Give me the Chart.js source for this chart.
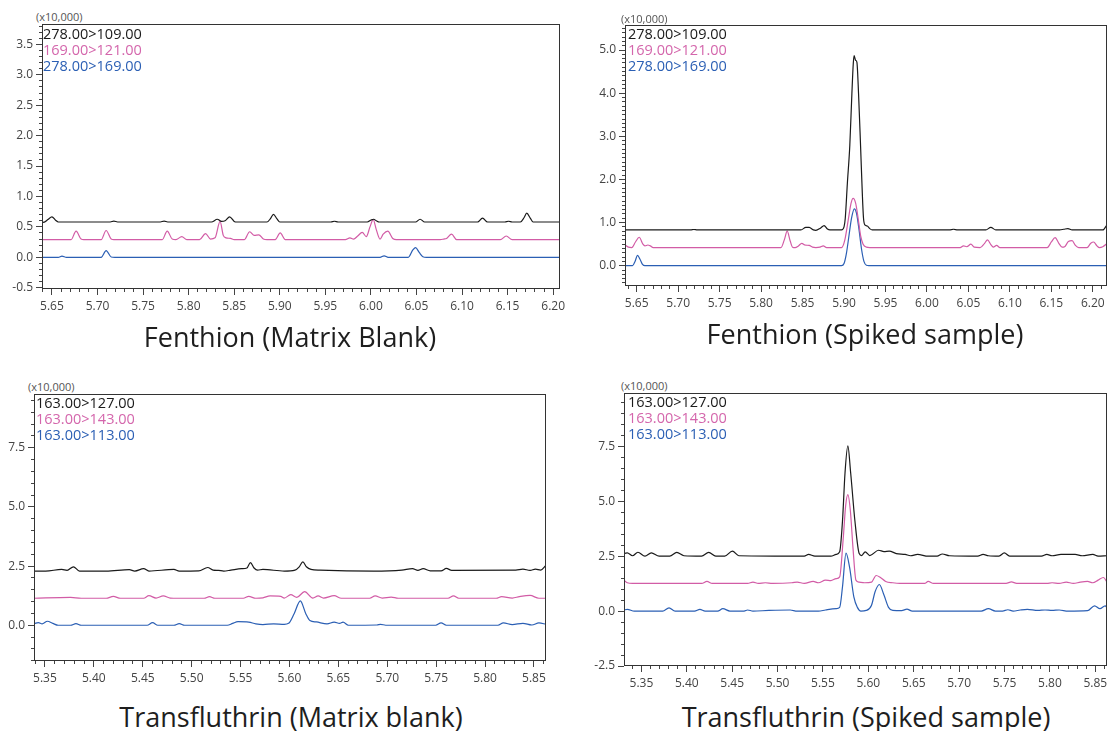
<!DOCTYPE html>
<html>
<head>
<meta charset="utf-8">
<script src="https://cdn.jsdelivr.net/npm/chart.js@4"></script>
<style>
body { margin:0; width:1110px; height:731px; background:#fff; position:relative; overflow:hidden; font-family:"Open Sans", sans-serif; }
canvas { position:absolute; }
.legend { position:absolute; font-size:14.5px; line-height:16px; white-space:nowrap; }
.unit { position:absolute; font-size:11px; line-height:11px; color:#555; white-space:nowrap; }
.title { position:absolute; font-size:27px; line-height:27px; color:#1e1e1e; white-space:nowrap; transform:translateX(-50%); }
.k { color:#1a1a1a } .p { color:#d466ac } .b { color:#2b5fb4 }
</style>
</head>
<body>

<canvas id="c1" width="567" height="295" style="left:8px;top:24px"></canvas>
<canvas id="c2" width="531" height="291" style="left:591px;top:25px"></canvas>
<canvas id="c3" width="561" height="297" style="left:0px;top:394px"></canvas>
<canvas id="c4" width="532" height="303" style="left:590px;top:393px"></canvas>

<div class="unit" style="left:36px;top:11px">(x10,000)</div>
<div class="unit" style="left:621px;top:13px">(x10,000)</div>
<div class="unit" style="left:28px;top:381px">(x10,000)</div>
<div class="unit" style="left:621px;top:380px">(x10,000)</div>

<div class="legend" style="left:43px;top:26px"><div class="k">278.00&gt;109.00</div><div class="p">169.00&gt;121.00</div><div class="b">278.00&gt;169.00</div></div>
<div class="legend" style="left:628px;top:26px"><div class="k">278.00&gt;109.00</div><div class="p">169.00&gt;121.00</div><div class="b">278.00&gt;169.00</div></div>
<div class="legend" style="left:36px;top:395px"><div class="k">163.00&gt;127.00</div><div class="p">163.00&gt;143.00</div><div class="b">163.00&gt;113.00</div></div>
<div class="legend" style="left:628px;top:394px"><div class="k">163.00&gt;127.00</div><div class="p">163.00&gt;143.00</div><div class="b">163.00&gt;113.00</div></div>

<div class="title" style="left:290px;top:323px">Fenthion (Matrix Blank)</div>
<div class="title" style="left:865px;top:320px">Fenthion (Spiked sample)</div>
<div class="title" style="left:291px;top:703px">Transfluthrin (Matrix blank)</div>
<div class="title" style="left:866px;top:703px">Transfluthrin (Spiked sample)</div>

<script>
// retention time (min), intensity (x10,000)
const fenXTicks = [5.65, 5.70, 5.75, 5.80, 5.85, 5.90, 5.95, 6.00, 6.05, 6.10, 6.15, 6.20]
const tfXTicks = [5.35, 5.40, 5.45, 5.50, 5.55, 5.60, 5.65, 5.70, 5.75, 5.80, 5.85]
const fenBlankYTicks = [-0.5, 0.0, 0.5, 1.0, 1.5, 2.0, 2.5, 3.0, 3.5]
const fenSpikeYTicks = [0.0, 1.0, 2.0, 3.0, 4.0, 5.0]
const tfBlankYTicks = [0.0, 2.5, 5.0, 7.5]
const tfSpikeYTicks = [-2.5, 0.0, 2.5, 5.0, 7.5]

// Fenthion, matrix blank
const fenBlank109 = [[5.638,0.59],[5.641,0.575],[5.6455,0.62],[5.650,0.665],[5.654,0.61],[5.657,0.58],
  [5.714,0.58],[5.718,0.595],[5.722,0.58],[5.769,0.58],[5.773,0.595],[5.777,0.58],
  [5.825,0.58],[5.8315,0.625],[5.836,0.59],[5.840,0.60],[5.845,0.665],[5.850,0.59],[5.853,0.58],
  [5.886,0.58],[5.890,0.64],[5.893,0.705],[5.897,0.63],[5.900,0.58],[5.956,0.58],[5.960,0.592],[5.964,0.58],
  [5.996,0.58],[6.0005,0.615],[6.003,0.625],[6.006,0.60],[6.009,0.58],[6.049,0.58],[6.054,0.625],[6.059,0.58],
  [6.117,0.58],[6.1225,0.645],[6.128,0.58],[6.147,0.58],[6.151,0.592],[6.155,0.58],
  [6.164,0.58],[6.168,0.65],[6.171,0.725],[6.175,0.64],[6.178,0.58],[6.208,0.58]]
const fenBlank121 = [[5.638,0.29],[5.671,0.29],[5.6765,0.43],[5.682,0.30],[5.685,0.29],
  [5.704,0.29],[5.7095,0.44],[5.715,0.30],[5.718,0.29],[5.771,0.29],[5.7765,0.43],[5.782,0.30],[5.786,0.29],[5.7925,0.34],[5.798,0.29],
  [5.812,0.29],[5.8185,0.39],[5.824,0.30],[5.829,0.32],[5.8345,0.59],[5.838,0.36],[5.841,0.32],[5.846,0.31],[5.850,0.29],
  [5.861,0.29],[5.867,0.42],[5.872,0.36],[5.877,0.37],[5.882,0.30],[5.886,0.29],[5.895,0.29],[5.9005,0.40],[5.906,0.29],
  [5.972,0.29],[5.977,0.32],[5.981,0.30],[5.9855,0.35],[5.9905,0.41],[5.995,0.34],[5.999,0.50],[6.0025,0.62],[6.006,0.45],
  [6.010,0.30],[6.0135,0.38],[6.0185,0.43],[6.024,0.31],[6.028,0.29],[6.076,0.29],[6.080,0.30],[6.083,0.31],[6.0885,0.38],[6.094,0.29],
  [6.142,0.29],[6.1485,0.35],[6.155,0.29],[6.208,0.29]]
const fenBlank169 = [[5.638,0.0],[5.657,0.0],[5.661,0.02],[5.666,0.0],[5.704,0.0],[5.7095,0.11],[5.715,0.005],[5.719,0.0],
  [6.010,0.0],[6.0145,0.025],[6.019,0.0],[6.041,0.0],[6.046,0.12],[6.049,0.16],[6.053,0.08],[6.057,0.01],[6.061,0.0],[6.208,0.0]]

// Fenthion, spiked sample
const fenSpike109 = [[5.636,0.83],[5.715,0.83],[5.719,0.84],[5.723,0.83],
  [5.848,0.83],[5.854,0.89],[5.858,0.89],[5.863,0.83],[5.866,0.82],[5.8715,0.87],[5.876,0.93],[5.880,0.85],[5.883,0.83],
  [5.897,0.83],[5.900,0.9],[5.9015,1.1],[5.904,1.9],[5.907,2.8],[5.9095,4.0],[5.9112,4.7],[5.9122,4.87],[5.914,4.76],[5.9155,4.72],
  [5.9175,4.0],[5.920,2.75],[5.922,1.7],[5.9235,1.1],[5.9255,0.94],[5.928,0.92],[5.931,0.86],[5.934,0.83],
  [6.027,0.83],[6.032,0.845],[6.037,0.83],[6.071,0.83],[6.077,0.89],[6.083,0.83],
  [6.160,0.83],[6.165,0.845],[6.170,0.86],[6.175,0.83],[6.212,0.83],[6.2175,0.96]]
const fenSpike121 = [[5.636,0.48],[5.640,0.43],[5.644,0.42],[5.6485,0.55],[5.653,0.66],[5.6575,0.50],[5.660,0.46],[5.6635,0.48],[5.6665,0.46],[5.670,0.42],
  [5.824,0.42],[5.828,0.6],[5.8315,0.80],[5.835,0.58],[5.838,0.43],[5.841,0.42],
  [5.845,0.46],[5.849,0.52],[5.853,0.48],[5.858,0.47],[5.862,0.43],[5.866,0.42],[5.871,0.43],[5.875,0.46],[5.879,0.42],
  [5.897,0.42],[5.901,0.6],[5.905,1.05],[5.9085,1.45],[5.911,1.56],[5.914,1.45],[5.917,1.1],[5.920,0.7],[5.923,0.5],[5.927,0.43],[5.931,0.42],
  [6.040,0.42],[6.044,0.46],[6.048,0.44],[6.053,0.50],[6.057,0.43],[6.064,0.42],[6.0695,0.52],[6.073,0.60],[6.077,0.49],[6.080,0.43],[6.084,0.47],[6.088,0.42],
  [6.145,0.42],[6.150,0.55],[6.1545,0.65],[6.159,0.52],[6.163,0.43],[6.166,0.44],[6.1705,0.56],[6.175,0.58],[6.179,0.47],[6.183,0.42],
  [6.193,0.42],[6.1975,0.52],[6.201,0.55],[6.205,0.46],[6.208,0.42],[6.212,0.44],[6.2175,0.52]]
const fenSpike169 = [[5.636,0.0],[5.645,0.0],[5.648,0.10],[5.651,0.24],[5.654,0.15],[5.657,0.03],[5.660,0.0],
  [5.897,0.0],[5.900,0.05],[5.903,0.3],[5.906,0.7],[5.909,1.1],[5.9125,1.32],[5.915,1.22],[5.918,0.85],[5.921,0.4],[5.924,0.1],[5.927,0.01],[5.930,0.0],[6.2175,0.0]]

// Transfluthrin, matrix blank
const tfBlank127 = [[5.338,2.29],[5.3507,2.29],[5.3671,2.36],[5.3726,2.32],[5.3791,2.47],[5.3853,2.29],[5.4126,2.29],
  [5.4363,2.35],[5.4418,2.29],[5.4509,2.39],[5.4563,2.29],[5.4818,2.36],[5.4873,2.29],[5.5073,2.30],[5.5164,2.44],
  [5.5219,2.33],[5.5273,2.32],[5.5328,2.29],[5.5401,2.33],[5.5510,2.39],[5.5565,2.42],[5.5601,2.65],[5.5638,2.42],[5.5674,2.33],
  [5.5729,2.36],[5.5947,2.29],[5.6056,2.33],[5.6100,2.47],[5.6137,2.68],[5.6173,2.47],[5.6220,2.36],[5.6311,2.33],
  [5.6858,2.29],[5.7149,2.33],[5.7258,2.39],[5.7313,2.32],[5.7367,2.39],[5.7440,2.30],[5.7550,2.30],[5.7604,2.40],
  [5.7659,2.32],[5.8314,2.33],[5.8387,2.37],[5.8460,2.32],[5.8515,2.37],[5.8569,2.33],[5.8624,2.54]]
const tfBlank143 = [[5.338,1.14],[5.3762,1.18],[5.3871,1.14],[5.4126,1.14],[5.4199,1.22],[5.4272,1.14],[5.4509,1.14],
  [5.4563,1.25],[5.4636,1.15],[5.4709,1.24],[5.4782,1.15],[5.4855,1.14],[5.5128,1.14],[5.5182,1.21],[5.5237,1.14],
  [5.5528,1.14],[5.5583,1.22],[5.5656,1.14],[5.5729,1.16],[5.5802,1.24],[5.5911,1.22],[5.5947,1.15],[5.6013,1.29],
  [5.6075,1.18],[5.6155,1.42],[5.6239,1.15],[5.6293,1.24],[5.6348,1.15],[5.6457,1.25],[5.6530,1.14],[5.6821,1.14],
  [5.6876,1.24],[5.6949,1.15],[5.7040,1.19],[5.7113,1.14],[5.7622,1.14],[5.7677,1.24],[5.7731,1.14],[5.8114,1.14],
  [5.8169,1.21],[5.8278,1.15],[5.8351,1.21],[5.8460,1.26],[5.8551,1.14],[5.8624,1.14]]
const tfBlank113 = [[5.338,0.06],[5.3434,0.11],[5.3471,0.06],[5.3525,0.17],[5.358,0.08],[5.3635,0.0],[5.3762,0.0],[5.3817,0.07],
  [5.3871,0.0],[5.4545,0.0],[5.46,0.11],[5.4654,0.0],[5.4818,0.0],[5.4873,0.07],[5.4928,0.0],[5.5365,0.0],[5.5419,0.08],
  [5.5474,0.15],[5.5583,0.13],[5.5656,0.06],[5.5729,0.03],[5.5838,0.06],[5.5947,0.04],[5.5991,0.08],[5.6049,0.5],
  [5.6111,1.03],[5.6166,0.5],[5.6209,0.2],[5.6275,0.14],[5.6384,0.06],[5.6457,0.13],[5.6512,0.08],[5.6548,0.13],
  [5.6603,0.0],[5.6894,0.01],[5.6931,0.04],[5.6985,0.0],[5.7495,0.0],[5.755,0.10],[5.7604,0.0],[5.8132,0.0],
  [5.8187,0.10],[5.8278,0.03],[5.8387,0.08],[5.8478,0.01],[5.8551,0.10],[5.8624,0.04]]

// Transfluthrin, spiked sample
const tfSpike127 = [[5.3285,2.58],[5.3344,2.65],[5.3402,2.52],[5.3461,2.68],[5.3539,2.5],[5.3609,2.65],[5.3695,2.5],
  [5.3812,2.5],[5.389,2.67],[5.3968,2.52],[5.4163,2.5],[5.4241,2.67],[5.4319,2.5],[5.4417,2.5],[5.4502,2.73],[5.4573,2.52],
  [5.5294,2.5],[5.5341,2.58],[5.5411,2.5],[5.5587,2.5],[5.5645,2.58],[5.5684,2.7],[5.5715,4.1],[5.5743,6.3],[5.5774,7.52],
  [5.5805,6.3],[5.5852,4.1],[5.5899,2.62],[5.5926,2.53],[5.5965,2.7],[5.6016,2.53],[5.6113,2.77],[5.6172,2.71],[5.623,2.73],
  [5.6308,2.62],[5.6406,2.58],[5.6464,2.52],[5.6542,2.58],[5.6659,2.5],[5.6757,2.5],[5.6815,2.6],[5.6893,2.52],
  [5.7205,2.5],[5.7264,2.58],[5.7322,2.52],[5.7439,2.5],[5.7498,2.65],[5.7556,2.5],[5.7907,2.5],[5.7966,2.58],
  [5.8024,2.52],[5.8122,2.58],[5.8199,2.58],[5.8278,2.58],[5.8356,2.52],[5.8473,2.58],[5.8531,2.5],[5.8629,2.52]]
const tfSpike143 = [[5.3308,1.41],[5.3344,1.29],[5.3402,1.26],[5.4163,1.26],[5.4222,1.35],[5.428,1.26],[5.467,1.26],
  [5.4729,1.32],[5.4787,1.26],[5.4865,1.29],[5.4943,1.26],[5.5158,1.29],[5.5216,1.32],[5.5294,1.26],[5.5392,1.35],
  [5.5450,1.29],[5.5528,1.41],[5.5587,1.39],[5.5645,1.48],[5.5684,1.56],[5.5723,3.3],[5.575,4.8],[5.5774,5.30],
  [5.5801,4.6],[5.5832,2.8],[5.5863,1.41],[5.5898,1.32],[5.5957,1.29],[5.6035,1.32],[5.6086,1.62],[5.6133,1.53],
  [5.6191,1.35],[5.6269,1.29],[5.6347,1.26],[5.662,1.26],[5.6659,1.35],[5.6718,1.26],[5.7517,1.26],[5.7576,1.33],
  [5.7634,1.26],[5.7966,1.26],[5.8024,1.29],[5.8102,1.26],[5.8180,1.32],[5.8258,1.26],[5.8336,1.32],[5.8414,1.35],
  [5.8473,1.29],[5.8531,1.41],[5.859,1.53],[5.8629,1.32]]
const tfSpike113 = [[5.3308,0.05],[5.3344,0.08],[5.3422,0.0],[5.3734,0.0],[5.3804,0.15],[5.3871,0.0],[5.4085,0.0],
  [5.4144,0.08],[5.4202,0.0],[5.4339,0.0],[5.4397,0.11],[5.4475,0.0],[5.4631,0.0],[5.467,0.05],[5.4729,0.0],[5.4904,0.03],
  [5.5138,0.05],[5.5216,0.0],[5.545,0.0],[5.5528,0.05],[5.5645,0.11],[5.5684,0.17],[5.5715,1.1],[5.5754,2.64],[5.5793,2.0],
  [5.584,0.65],[5.5879,0.17],[5.5918,0.0],[5.5977,0.03],[5.6035,0.27],[5.6074,0.88],[5.6121,1.21],[5.6172,0.73],
  [5.6222,0.17],[5.6269,0.03],[5.6367,0.02],[5.6425,0.09],[5.6484,0.0],[5.7244,0.0],[5.7322,0.11],[5.74,0.0],[5.7478,0.0],
  [5.7537,0.06],[5.7595,0.0],[5.7673,0.05],[5.7751,0.08],[5.7868,0.03],[5.7946,0.05],[5.8024,0.03],[5.8102,0.05],
  [5.82,0.0],[5.8414,0.02],[5.8492,0.24],[5.8551,0.11],[5.8609,0.24],[5.8629,0.15]]

const BLACK = '#1a1a1a', PINK = '#d25ca6', BLUE = '#2b5fb4'
const Y_W = 34, X_H = 30

function minorTicks(min, max, step) {
    const out = []
    for (let i = Math.ceil(min / step - 1e-9); i * step <= max + 1e-9; i++) {
        out.push({ value: Math.round(i * step * 1e6) / 1e6 })
    }
    return out
}

const tickFont = { family: 'Open Sans', size: 12 }

function makeScales(xr, xMajor, yr, yMajor, yMinorStep) {
    return {
        x: {
            type: 'linear', position: 'bottom', weight: 1, bounds: 'data', min: xr[0], max: xr[1],
            afterBuildTicks: s => { s.ticks = xMajor.map(v => ({ value: v })) },
            afterFit: s => { s.height = X_H; s.paddingLeft = 0; s.paddingRight = 0 },
            grid: { drawOnChartArea: false, tickLength: 6, tickColor: '#444' },
            border: { display: false },
            ticks: { autoSkip: false, maxRotation: 0, padding: 4, color: '#444', font: tickFont, callback: v => v.toFixed(2) }
        },
        xm: {
            type: 'linear', position: 'bottom', weight: 0, bounds: 'data', min: xr[0], max: xr[1],
            afterBuildTicks: s => { s.ticks = minorTicks(xr[0], xr[1], 0.01) },
            afterFit: s => { s.height = 0; s.paddingLeft = 0; s.paddingRight = 0 },
            grid: { drawOnChartArea: false, tickLength: 3, tickColor: '#444' },
            border: { display: false },
            ticks: { display: false, autoSkip: false }
        },
        y: {
            type: 'linear', position: 'left', weight: 1, bounds: 'data', min: yr[0], max: yr[1],
            afterBuildTicks: s => { s.ticks = yMajor.map(v => ({ value: v })) },
            afterFit: s => { s.width = Y_W; s.paddingTop = 0; s.paddingBottom = 0 },
            grid: { drawOnChartArea: false, tickLength: 6, tickColor: '#444' },
            border: { display: false },
            ticks: { autoSkip: false, padding: 3, color: '#444', font: tickFont, callback: v => v.toFixed(1) }
        },
        ym: {
            type: 'linear', position: 'left', weight: 0, bounds: 'data', min: yr[0], max: yr[1],
            afterBuildTicks: s => { s.ticks = minorTicks(yr[0], yr[1], yMinorStep) },
            afterFit: s => { s.width = 0; s.paddingTop = 0; s.paddingBottom = 0 },
            grid: { drawOnChartArea: false, tickLength: 3, tickColor: '#444' },
            border: { display: false },
            ticks: { display: false, autoSkip: false }
        }
    }
}

const frame = {
    id: 'frame',
    afterDraw(chart) {
        const { ctx, chartArea: a } = chart
        ctx.save()
        ctx.strokeStyle = '#333'
        ctx.lineWidth = 1
        ctx.strokeRect(Math.round(a.left) + 0.5, Math.round(a.top) + 0.5,
            Math.round(a.right - a.left) - 1, Math.round(a.bottom - a.top) - 1)
        ctx.restore()
    }
}

function line(data, color) {
    return {
        data: data.map(([x, y]) => ({ x, y })),
        borderColor: color, borderWidth: 1.2, pointRadius: 0, fill: false,
        cubicInterpolationMode: 'monotone', xAxisID: 'x', yAxisID: 'y'
    }
}

function makeChart(id, series, xr, xMajor, yr, yMajor, yMinorStep) {
    return new Chart(document.getElementById(id), {
        type: 'line',
        data: { datasets: [line(series[0], BLACK), line(series[1], PINK), line(series[2], BLUE)] },
        options: {
            responsive: false, animation: false, parsing: true,
            layout: { padding: { left: 0, top: 0, right: 15, bottom: 0 } },
            plugins: { legend: { display: false }, tooltip: { enabled: false } },
            scales: makeScales(xr, xMajor, yr, yMajor, yMinorStep)
        },
        plugins: [frame]
    })
}

const chart1 = makeChart('c1', [fenBlank109, fenBlank121, fenBlank169], [5.6391, 6.2075], fenXTicks, [-0.521, 3.834], fenBlankYTicks, 0.1)
const chart2 = makeChart('c2', [fenSpike109, fenSpike121, fenSpike169], [5.6359, 6.2171], fenXTicks, [-0.47, 5.58], fenSpikeYTicks, 0.1)
const chart3 = makeChart('c3', [tfBlank127, tfBlank143, tfBlank113], [5.3388, 5.8623], tfXTicks, [-1.51, 9.77], tfBlankYTicks, 0.5)
const chart4 = makeChart('c4', [tfSpike127, tfSpike143, tfSpike113], [5.3308, 5.8629], tfXTicks, [-2.5, 9.93], tfSpikeYTicks, 0.5)
</script>
</body>
</html>
